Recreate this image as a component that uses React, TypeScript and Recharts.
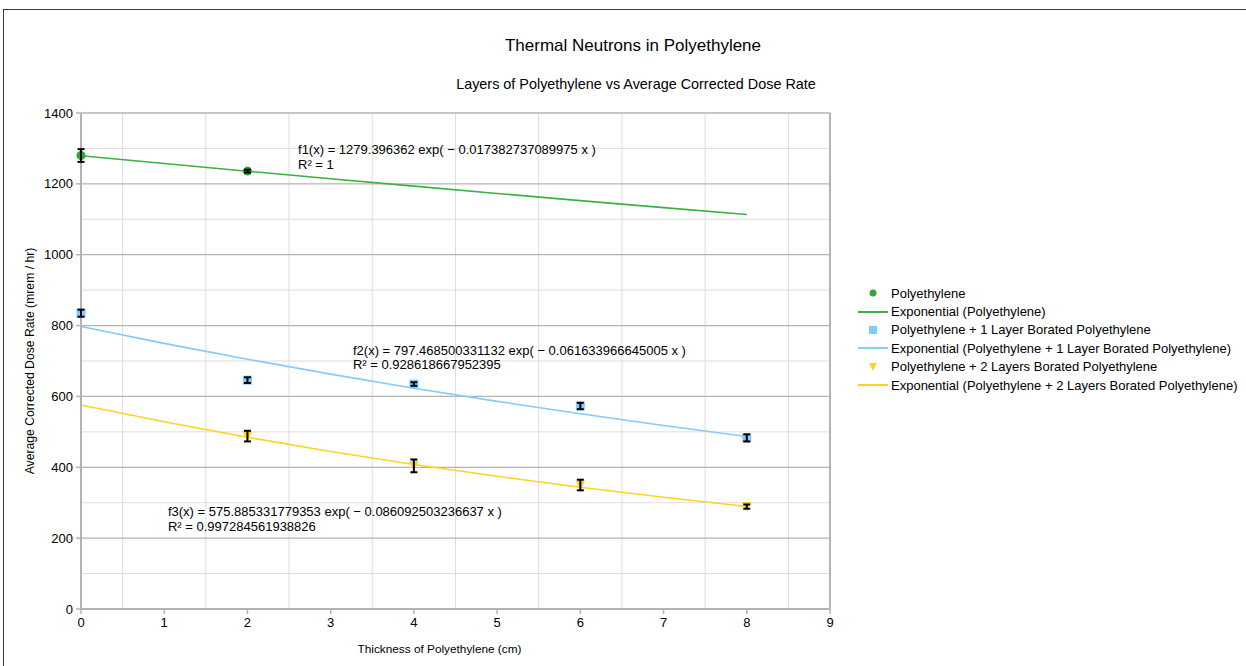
import React from 'react';
import {
  ComposedChart, Line, Scatter, XAxis, YAxis, ErrorBar,
  ReferenceLine, ReferenceDot
} from 'recharts';

const FONT = '"Liberation Sans", Arial, sans-serif';

// measured points: thickness (cm), dose rate, error
const peX = [0, 2];
const peY = [1280, 1236];
const peErr = [18, 4];

const b1X = [0, 2, 4, 6, 8];
const b1Y = [835, 646, 635, 573, 483];
const b1Err = [10, 8, 5, 9, 10];

const b2X = [2, 4, 6, 8];
const b2Y = [488, 404, 350, 289];
const b2Err = [15, 18, 15, 6];

// exponential trend lines read at whole cm
const trendX = [0, 1, 2, 3, 4, 5, 6, 7, 8];
const peTrend = [1279.4, 1257.4, 1235.7, 1214.4, 1193.5, 1172.9, 1152.7, 1132.9, 1113.4];
const b1Trend = [797.5, 749.8, 705.0, 662.9, 623.2, 586.0, 551.0, 518.0, 487.1];
const b2Trend = [575.9, 528.4, 484.8, 444.8, 408.1, 374.5, 343.6, 315.2, 289.2];

const xTicks = [0, 1, 2, 3, 4, 5, 6, 7, 8, 9];
const yTicks = [0, 200, 400, 600, 800, 1000, 1200, 1400];
const yMinor = [100, 300, 500, 700, 900, 1100, 1300];
const xMinor = [0.5, 1.5, 2.5, 3.5, 4.5, 5.5, 6.5, 7.5, 8.5];

const eqLines = [
  { x: 2.608, y: 1284, a: 'f1(x) = 1279.396362 exp( − 0.017382737089975 x )', b: 'R² = 1' },
  { x: 3.268, y: 717, a: 'f2(x) = 797.468500331132 exp( − 0.061633966645005 x )', b: 'R² = 0.928618667952395' },
  { x: 1.045, y: 262, a: 'f3(x) = 575.885331779353 exp( − 0.086092503236637 x )', b: 'R² = 0.997284561938826' },
];

const GREEN = '#2ea836';
const GREEN_LINE = '#3cb043';
const BLUE = '#83caff';
const YELLOW = '#ffd320';

const pts = (xs: number[], ys: number[], es: number[]) =>
  xs.map((x, i) => ({ x, y: ys[i], err: es[i] }));
const line = (ys: number[]) => trendX.map((x, i) => ({ x, y: ys[i] }));

const Circle = (p: any) => <circle cx={p.cx} cy={p.cy} r={4.5} fill={GREEN} />;
const Square = (p: any) => <rect x={p.cx - 4.5} y={p.cy - 4.5} width={9} height={9} fill={BLUE} />;
const Tri = (p: any) => (
  <polygon points={`${p.cx - 5},${p.cy - 4.5} ${p.cx + 5},${p.cy - 4.5} ${p.cx},${p.cy + 4.5}`} fill={YELLOW} />
);
const Nothing = () => <g />;

const legendItems = [
  { kind: 'circle', color: GREEN, label: 'Polyethylene' },
  { kind: 'line', color: GREEN_LINE, label: 'Exponential (Polyethylene)' },
  { kind: 'square', color: BLUE, label: 'Polyethylene + 1 Layer Borated Polyethylene' },
  { kind: 'line', color: BLUE, label: 'Exponential (Polyethylene + 1 Layer Borated Polyethylene)' },
  { kind: 'tri', color: YELLOW, label: 'Polyethylene + 2 Layers Borated Polyethylene' },
  { kind: 'line', color: YELLOW, label: 'Exponential (Polyethylene + 2 Layers Borated Polyethylene)' },
];

function LegendBox() {
  return (
    <div style={{ position: 'absolute', left: 858, top: 284, fontFamily: FONT, fontSize: 13, color: '#000' }}>
      {legendItems.map((it, i) => (
        <div key={i} style={{ display: 'flex', alignItems: 'center', height: 18.4 }}>
          <svg width={33} height={12}>
            {it.kind === 'line' && <line x1={0} x2={30} y1={6} y2={6} stroke={it.color} strokeWidth={2} />}
            {it.kind === 'circle' && <circle cx={15} cy={6} r={3.5} fill={it.color} />}
            {it.kind === 'square' && <rect x={11} y={2} width={8} height={8} fill={it.color} />}
            {it.kind === 'tri' && <polygon points="11,2 19,2 15,10" fill={it.color} />}
          </svg>
          <span style={{ whiteSpace: 'nowrap' }}>{it.label}</span>
        </div>
      ))}
    </div>
  );
}

const EqLabel = (text1: string, text2: string) => (props: any) => {
  const vb = props.viewBox || {};
  const x = vb.x ?? 0;
  const y = vb.y ?? 0;
  return (
    <text x={x} y={y} fontFamily={FONT} fontSize={13} fill="#000">
      <tspan x={x} dy={0}>{text1}</tspan>
      <tspan x={x} dy={14.5}>{text2}</tspan>
    </text>
  );
};

const XLabel = (props: any) => {
  const vb = props.viewBox || {};
  return (
    <text x={vb.x + vb.width / 2 - 16} y={vb.y + 44} textAnchor="middle" fontFamily={FONT} fontSize={11.8} fill="#000">
      Thickness of Polyethylene (cm)
    </text>
  );
};

const tickStyle = { fill: '#000', fontSize: 13, fontFamily: FONT };

export default function App() {
  return (
    <div style={{ position: 'absolute', left: 0, top: 0, width: 1246, height: 666, overflow: 'hidden', background: '#fff' }}>
      <div style={{ position: 'absolute', left: 3, top: 9, width: 1300, height: 700, border: '1px solid #3a3a3a' }} />
      <div style={{ position: 'absolute', left: 0, top: 36, width: 1266, textAlign: 'center', fontFamily: FONT, fontSize: 17, color: '#000' }}>
        Thermal Neutrons in Polyethylene
      </div>
      <div style={{ position: 'absolute', left: 0, top: 76, width: 1272, textAlign: 'center', fontFamily: FONT, fontSize: 14.4, color: '#000' }}>
        Layers of Polyethylene vs Average Corrected Dose Rate
      </div>
      <div style={{ position: 'absolute', left: 0, top: 0 }}>
        <ComposedChart width={1246} height={666} margin={{ top: 113, right: 416, bottom: 27, left: 21 }}>
          {yMinor.map(v => <ReferenceLine key={'ym' + v} y={v} stroke="#dddddd" strokeWidth={1} />)}
          {xMinor.map(v => <ReferenceLine key={'xm' + v} x={v} stroke="#dddddd" strokeWidth={1} />)}
          {yTicks.filter(v => v > 0).map(v => <ReferenceLine key={'yM' + v} y={v} stroke="#b3b3b3" strokeWidth={1.3} />)}
          <ReferenceLine x={9} stroke="#b3b3b3" strokeWidth={2} />
          <XAxis
            dataKey="x" type="number" domain={[0, 9]} ticks={xTicks} interval={0}
            height={30} tick={tickStyle} tickSize={5} tickMargin={4}
            axisLine={{ stroke: '#b3b3b3', strokeWidth: 2 }} tickLine={{ stroke: '#b3b3b3', strokeWidth: 1.5 }}
            label={XLabel}
          />
          <YAxis
            dataKey="y" type="number" domain={[0, 1400]} ticks={yTicks} interval={0}
            width={60} tick={tickStyle} tickSize={5} tickMargin={3}
            axisLine={{ stroke: '#b3b3b3', strokeWidth: 2 }} tickLine={{ stroke: '#b3b3b3', strokeWidth: 1.5 }}
            label={{ value: 'Average Corrected Dose Rate (mrem / hr)', angle: -90, position: 'insideLeft', offset: 9, fill: '#000', fontSize: 12.2, fontFamily: FONT, style: { textAnchor: 'middle' } }}
          />
          <Line data={line(peTrend)} dataKey="y" stroke={GREEN_LINE} strokeWidth={1.6} dot={false} isAnimationActive={false} legendType="none" />
          <Line data={line(b1Trend)} dataKey="y" stroke={BLUE} strokeWidth={1.6} dot={false} isAnimationActive={false} legendType="none" />
          <Line data={line(b2Trend)} dataKey="y" stroke={YELLOW} strokeWidth={1.6} dot={false} isAnimationActive={false} legendType="none" />
          <Scatter data={pts(peX, peY, peErr)} shape={Circle} isAnimationActive={false} legendType="none" />
          <Scatter data={pts(b1X, b1Y, b1Err)} shape={Square} isAnimationActive={false} legendType="none" />
          <Scatter data={pts(b2X, b2Y, b2Err)} shape={Tri} isAnimationActive={false} legendType="none" />
          {[pts(peX, peY, peErr), pts(b1X, b1Y, b1Err), pts(b2X, b2Y, b2Err)].map((d, i) => (
            <Scatter key={'eb' + i} data={d} shape={Nothing} isAnimationActive={false} legendType="none" zIndex={700}>
              <ErrorBar dataKey="err" direction="y" width={3.5} stroke="#000" strokeWidth={2} isAnimationActive={false} zIndex={700} />
            </Scatter>
          ))}
          {eqLines.map((e, i) => (
            <ReferenceDot key={'eq' + i} x={e.x} y={e.y} r={0} fill="none" stroke="none" label={EqLabel(e.a, e.b)} />
          ))}
        </ComposedChart>
      </div>
      <LegendBox />
    </div>
  );
}
